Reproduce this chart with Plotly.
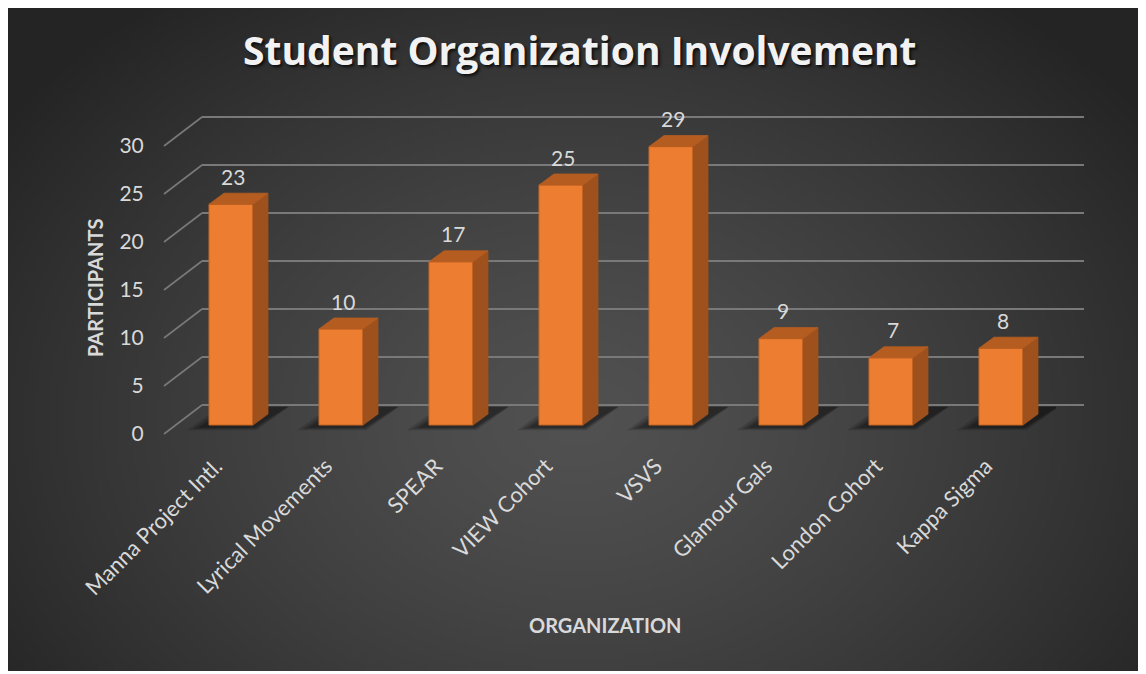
import base64
import struct
import zlib

import numpy as np
import plotly.graph_objects as go

# ---------------- data ----------------
categories = ["Manna Project Intl.", "Lyrical Movements", "SPEAR", "VIEW Cohort",
              "VSVS", "Glamour Gals", "London Cohort", "Kappa Sigma"]
participants = [23, 10, 17, 25, 29, 9, 7, 8]
y_ticks = [0, 5, 10, 15, 20, 25, 30]
title_text = "Student Organization Involvement"
y_title = "PARTICIPANTS"
x_title = "ORGANIZATION"

# ---------------- geometry (window pixels) ----------------
W, H = 1146, 674
PAGE_OFF = 8              # default body margin of the page
SCALE = 9.6               # px per participant
BACK_LEFT, BACK_RIGHT, BACK_Y0 = 202, 1084, 405
BAR_Y0 = 425
FRONT_LEFT, FRONT_Y0 = 164, 434
PLOT_L, PLOT_R = 176, 1056
DEPTH_X, DEPTH_Y = 15, 11
BAR_W = 0.4
Y_MIN, Y_MAX = -1, 31

FONT = "Lato"
TXT = "#d9d9d9"
GRID = "#797979"


def fx(px):
    return (px - PAGE_OFF) / W


def fy(py):
    return 1 - (py - PAGE_OFF) / H


# ---------------- background radial gradient as PNG ----------------
def gradient_png(w=290, h=170):
    yy, xx = np.mgrid[0:h, 0:w].astype(float)
    cx, cy = 0.5 * w, 0.62 * h
    r = np.sqrt(((xx - cx) / (0.62 * w)) ** 2 + ((yy - cy) / (0.8 * h)) ** 2)
    r = np.clip(r, 0, 1)
    val = 81 + (36 - 81) * r ** 1.3
    arr = np.clip(val, 0, 255).astype(np.uint8)
    raw = b"".join(b"\x00" + row.tobytes() for row in arr)

    def chunk(t, d):
        return struct.pack(">I", len(d)) + t + d + struct.pack(">I", zlib.crc32(t + d) & 0xFFFFFFFF)

    png = (b"\x89PNG\r\n\x1a\n"
           + chunk(b"IHDR", struct.pack(">IIBBBBB", w, h, 8, 0, 0, 0, 0))
           + chunk(b"IDAT", zlib.compress(raw, 9))
           + chunk(b"IEND", b""))
    return "data:image/png;base64," + base64.b64encode(png).decode()


bg_src = gradient_png()

idx = list(range(len(categories)))
dx = DEPTH_X / ((PLOT_R - PLOT_L) / (len(categories)))
dy = DEPTH_Y / SCALE
hw = BAR_W / 2

fig = go.Figure()

# ---- back-wall subplot (x, y): only gridlines ----
fig.add_trace(go.Scatter(x=[0], y=[0], mode="markers", marker=dict(opacity=0),
                         hoverinfo="skip", showlegend=False, xaxis="x", yaxis="y"))

# ---- shadows subplot (x2, y2) ----
for k, alpha in [(1.0, 0.14), (0.75, 0.18), (0.5, 0.22)]:
    sx, sy = [], []
    for i in idx:
        fl = i - hw - 0.2 * k
        fr = i + hw + 0.03 * k
        yf = -0.55 * k
        yb = 1.9
        shift = 0.3
        sx += [fl, fr, fr + shift, fl + shift, fl, None]
        sy += [yf, yf, yb, yb, yf, None]
    fig.add_trace(go.Scatter(x=sx, y=sy, mode="lines", fill="toself",
                             fillcolor=f"rgba(0,0,0,{alpha})", line=dict(width=0),
                             hoverinfo="skip", showlegend=False, xaxis="x2", yaxis="y2"))

# ---- bars subplot (x3, y3) ----
fig.add_trace(go.Bar(x=idx, y=participants, width=BAR_W,
                     marker=dict(color="#ED7D31", line=dict(color="#C9661F", width=1)),
                     hoverinfo="skip", showlegend=False, xaxis="x3", yaxis="y3"))

side_x, side_y, top_x, top_y = [], [], [], []
for i, v in zip(idx, participants):
    side_x += [i + hw, i + hw + dx, i + hw + dx, i + hw, i + hw, None]
    side_y += [0, dy, v + dy, v, 0, None]
    top_x += [i - hw, i + hw, i + hw + dx, i - hw + dx, i - hw, None]
    top_y += [v, v, v + dy, v + dy, v, None]

fig.add_trace(go.Scatter(x=side_x, y=side_y, mode="lines", fill="toself",
                         fillcolor="#9E511D", line=dict(width=0.8, color="#9E511D"),
                         hoverinfo="skip", showlegend=False, xaxis="x3", yaxis="y3"))
fig.add_trace(go.Scatter(x=top_x, y=top_y, mode="lines", fill="toself",
                         fillcolor="#B55D21", line=dict(width=0.8, color="#B55D21"),
                         hoverinfo="skip", showlegend=False, xaxis="x3", yaxis="y3"))

# data labels
annotations = []
for i, v in zip(idx, participants):
    annotations.append(dict(x=i, y=v, xref="x3", yref="y3", text=str(v), showarrow=False,
                            xshift=2, yshift=28, yanchor="middle",
                            font=dict(family=FONT, size=21, color=TXT)))

# title & axis titles
annotations.append(dict(x=fx(580), y=fy(49), xref="paper", yref="paper", text=title_text,
                        showarrow=False, xanchor="center", yanchor="middle",
                        font=dict(family="Open Sans", size=39, color="#f2f2f2", weight="bold",
                                  shadow="2px 2px 3px rgba(0,0,0,0.75)")))
annotations.append(dict(x=fx(95), y=fy(288), xref="paper", yref="paper", text=y_title,
                        showarrow=False, textangle=-90, xanchor="center", yanchor="middle",
                        font=dict(family=FONT, size=20, color=TXT, weight="bold")))
annotations.append(dict(x=fx(605), y=fy(625), xref="paper", yref="paper", text=x_title,
                        showarrow=False, xanchor="center", yanchor="middle",
                        font=dict(family=FONT, size=20, color=TXT, weight="bold")))

# diagonal floor/wall connectors
shapes = []
for t in y_ticks:
    shapes.append(dict(type="line", xref="paper", yref="paper", layer="below",
                       x0=fx(FRONT_LEFT), y0=fy(FRONT_Y0 - t * SCALE),
                       x1=fx(BACK_LEFT), y1=fy(BACK_Y0 - t * SCALE),
                       line=dict(color=GRID, width=1.6)))

back_dom = [fy(BACK_Y0 + 0.2 * SCALE), fy(BACK_Y0 - 30.2 * SCALE)]
bar_dom = [fy(BAR_Y0 - Y_MIN * SCALE), fy(BAR_Y0 - Y_MAX * SCALE)]
shift = (FRONT_Y0 - BAR_Y0) / SCALE
xr = [-0.5, len(categories) - 0.5]

hidden = dict(visible=False, showgrid=False, zeroline=False)

fig.update_layout(
    width=W, height=H,
    margin=dict(l=0, r=0, t=0, b=0, pad=0, autoexpand=False),
    paper_bgcolor="white",
    plot_bgcolor="rgba(0,0,0,0)",
    showlegend=False,
    images=[dict(source=bg_src, xref="paper", yref="paper", x=fx(6), y=fy(5),
                 sizex=fx(1146) - fx(6), sizey=fy(5) - fy(671), sizing="stretch",
                 xanchor="left", yanchor="top", layer="below")],
    xaxis=dict(domain=[fx(BACK_LEFT), fx(BACK_RIGHT)], range=[0, 1], **hidden),
    yaxis=dict(domain=back_dom, range=[-0.2, 30.2], anchor="x",
               showgrid=True, gridcolor=GRID, gridwidth=1.6, tickmode="array",
               tickvals=y_ticks, showticklabels=False, zeroline=False, showline=False, ticks=""),
    xaxis2=dict(domain=[fx(PLOT_L), fx(PLOT_R)], range=xr, anchor="y2", **hidden),
    yaxis2=dict(domain=bar_dom, range=[Y_MIN, Y_MAX], anchor="x2", **hidden),
    xaxis3=dict(domain=[fx(PLOT_L), fx(PLOT_R)], range=xr, anchor="y3",
                tickmode="array", tickvals=idx, ticktext=categories, tickangle=-45,
                ticks="outside", ticklen=9, tickcolor="rgba(0,0,0,0)", ticklabelshift=-15,
                showgrid=False, zeroline=False, showline=False, automargin=False,
                tickfont=dict(family=FONT, size=22, color=TXT)),
    yaxis3=dict(domain=bar_dom, range=[Y_MIN, Y_MAX], anchor="x3",
                showgrid=False, zeroline=False, showticklabels=False, ticks=""),
    yaxis4=dict(overlaying="y3", range=[Y_MIN + shift, Y_MAX + shift], anchor="free",
                position=fx(FRONT_LEFT), side="left", tickmode="array", tickvals=y_ticks,
                ticks="outside", ticklen=16, tickcolor="rgba(0,0,0,0)", automargin=False,
                showgrid=False, zeroline=False, showline=False,
                tickfont=dict(family=FONT, size=21, color=TXT)),
    annotations=annotations,
    shapes=shapes,
)

# dummy trace so yaxis4 is drawn
fig.add_trace(go.Scatter(x=[0], y=[0], mode="markers", marker=dict(opacity=0),
                         hoverinfo="skip", showlegend=False, xaxis="x3", yaxis="y4"))

fig.write_html("out.html")
